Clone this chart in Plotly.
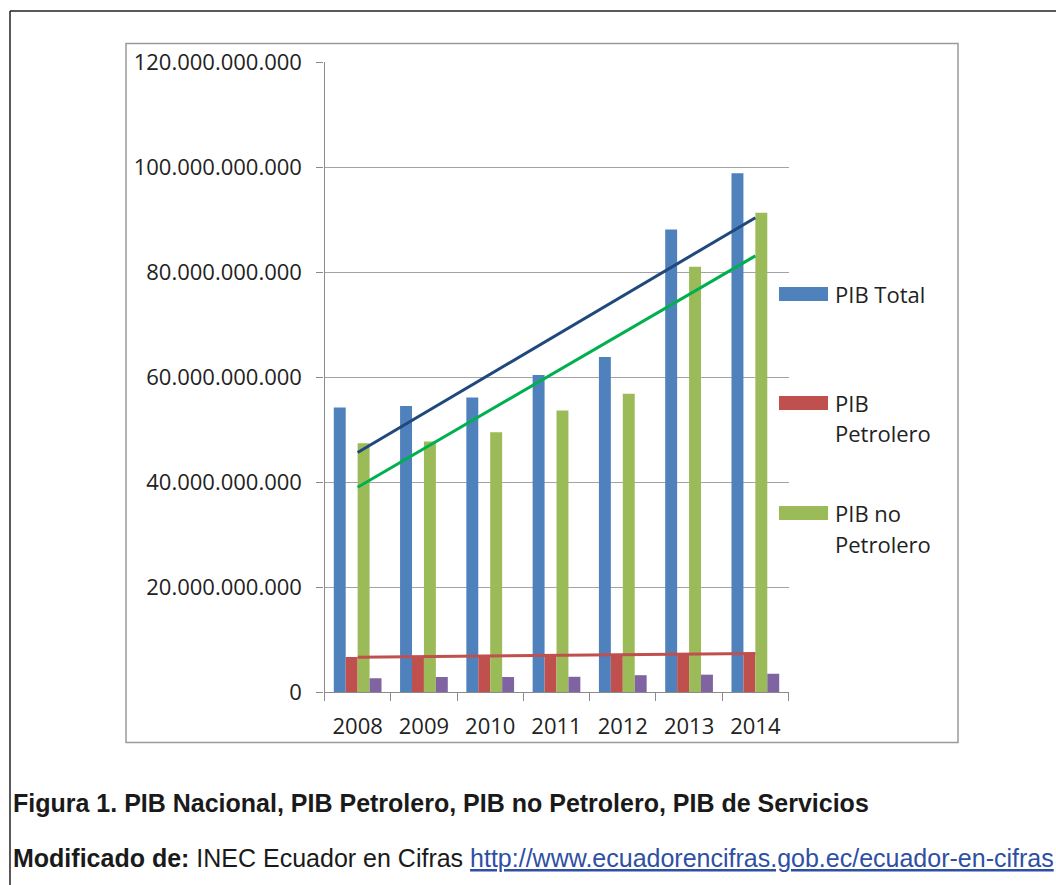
import numpy as np
import plotly.graph_objects as go

# Años y series del PIB (USD)
years = ["2008", "2009", "2010", "2011", "2012", "2013", "2014"]
pib_total = [54.2e9, 54.5e9, 56.1e9, 60.4e9, 63.8e9, 88.1e9, 98.8e9]
pib_petrolero = [6.67e9, 6.8e9, 6.75e9, 6.9e9, 7.0e9, 7.3e9, 7.4e9]
pib_no_petrolero = [47.4e9, 47.7e9, 49.5e9, 53.6e9, 56.8e9, 81.0e9, 91.3e9]
pib_servicios = [2.6e9, 2.85e9, 2.85e9, 2.9e9, 3.2e9, 3.3e9, 3.5e9]

y_ticks = [0, 20e9, 40e9, 60e9, 80e9, 100e9, 120e9]

W, H = 1056, 885
FONT = "Open Sans"
TXT = "#222222"
GRID = "#A3A3A3"
AXIS = "#8A8A8A"

C_TOTAL = "#4F81BD"
C_PETRO = "#C0504D"
C_NOPETRO = "#9BBB59"
C_SERV = "#8064A2"


def px(x):
    return x / W


def py(y):
    return 1 - y / H


def trend(values):
    # tendencia lineal por mínimos cuadrados
    t = np.arange(len(values))
    m, b = np.polyfit(t, np.array(values, dtype=float), 1)
    return list(m * t + b)


fig = go.Figure()

for name, vals, col in [
    ("PIB Total", pib_total, C_TOTAL),
    ("PIB Petrolero", pib_petrolero, C_PETRO),
    ("PIB no Petrolero", pib_no_petrolero, C_NOPETRO),
    ("PIB de Servicios", pib_servicios, C_SERV),
]:
    fig.add_trace(go.Bar(x=years, y=vals, name=name, marker_color=col,
                         marker_line_width=0, showlegend=False))

for vals, col in [(pib_total, "#1F497D"), (pib_no_petrolero, "#00B050"),
                  (pib_petrolero, "#C0504D")]:
    fig.add_trace(go.Scatter(x=years, y=trend(vals), mode="lines",
                             line=dict(color=col, width=3), showlegend=False,
                             hoverinfo="skip"))

x0, x1 = 324.5, 788.5
y_top, y_bot = 62, 692

fig.update_layout(
    width=W, height=H,
    margin=dict(l=0, r=0, t=0, b=0, pad=0, autoexpand=False),
    paper_bgcolor="white", plot_bgcolor="white",
    separators=",.",
    barmode="group", bargap=0.28, bargroupgap=0,
    showlegend=False,
    font=dict(family=FONT, size=22, color=TXT),
    xaxis=dict(
        domain=[px(x0), px(x1)],
        type="category", automargin=False,
        showline=True, linecolor=AXIS, linewidth=1.3,
        ticks="outside", tickson="boundaries", ticklen=8,
        tickcolor=AXIS, tickwidth=1.3,
        showgrid=False, ticklabelstandoff=14,
        tickfont=dict(family=FONT, size=22, color=TXT),
    ),
    yaxis=dict(
        domain=[py(y_bot), py(y_top)],
        range=[0, 120e9], automargin=False,
        tickvals=y_ticks, tickformat=",.0f",
        showline=True, linecolor=AXIS, linewidth=1.3,
        ticks="outside", ticklen=7, tickcolor=AXIS, tickwidth=1.3,
        showgrid=True, gridcolor=GRID, gridwidth=1.3,
        zeroline=False, ticklabelstandoff=10,
        tickfont=dict(family=FONT, size=22, color=TXT),
    ),
)

shapes = []
# marco del gráfico
shapes.append(dict(type="rect", xref="paper", yref="paper",
                   x0=px(126), x1=px(958), y0=py(742.5), y1=py(43.5),
                   line=dict(color="#9A9A9A", width=1.5), layer="below"))
# marco exterior de la figura
shapes.append(dict(type="line", xref="paper", yref="paper",
                   x0=px(10), x1=px(10), y0=py(11), y1=0,
                   line=dict(color="#222222", width=1.5)))
shapes.append(dict(type="line", xref="paper", yref="paper",
                   x0=px(10), x1=1, y0=py(11), y1=py(11),
                   line=dict(color="#222222", width=1.5)))

# leyenda manual
legend_items = [
    (C_TOTAL, 294, ["PIB Total"]),
    (C_PETRO, 403, ["PIB", "Petrolero"]),
    (C_NOPETRO, 513, ["PIB no", "Petrolero"]),
]
annotations = []
for col, yc, lines in legend_items:
    shapes.append(dict(type="rect", xref="paper", yref="paper",
                       x0=px(779), x1=px(828), y0=py(yc + 7), y1=py(yc - 7),
                       fillcolor=col, line=dict(width=0)))
    for i, t in enumerate(lines):
        annotations.append(dict(
            x=px(833), y=py(yc + i * 30.5), xref="paper", yref="paper",
            text=t, showarrow=False, xanchor="left", yanchor="middle",
            font=dict(family=FONT, size=22, color=TXT)))

annotations.append(dict(
    x=px(11), y=py(803), xref="paper", yref="paper",
    text="<b>Figura 1. PIB Nacional, PIB Petrolero, PIB no Petrolero, PIB de Servicios</b>",
    showarrow=False, xanchor="left", yanchor="middle",
    font=dict(family="Liberation Sans", size=25, color="#1A1A1A")))
annotations.append(dict(
    x=px(11), y=py(858), xref="paper", yref="paper",
    text=("<b>Modificado de:</b> INEC Ecuador en Cifras "
          "<span style='color:#2E4FA3'><u>http://www.ecuadorencifras.gob.ec/ecuador-en-cifras</u></span>"),
    showarrow=False, xanchor="left", yanchor="middle",
    font=dict(family="Liberation Sans", size=25, color="#1A1A1A")))

fig.update_layout(shapes=shapes, annotations=annotations)

fig.write_html("out.html")
